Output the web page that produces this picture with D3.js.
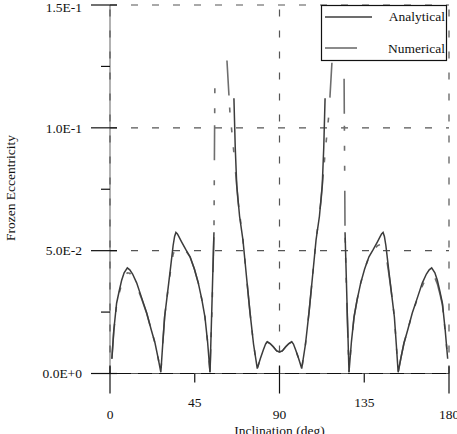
<!DOCTYPE html>
<html>
<head>
<meta charset="utf-8">
<script src="https://cdn.jsdelivr.net/npm/d3@7"></script>
<style>
  html, body { margin: 0; padding: 0; background: #fff; }
  svg { display: block; }
  text { font-family: "Liberation Serif", "Times New Roman", serif; font-size: 13.5px; fill: #111; }
</style>
</head>
<body>
<div id="container"></div>
<script>
const width = 457;
const height = 434;

// tick values and labels
const yMajor = [0, 0.05, 0.1, 0.15];
const yLabels = ["0.0E+0", "5.0E-2", "1.0E-1", "1.5E-1"];
const yMinor = [0.025, 0.075, 0.125];
const xMajor = [0, 90, 180];
const xMinor = [45, 135];

// analytical solution (null = break in the curve)
const analyticalInc = [
  1.0, 2.0, 3.5, 5.0, 6.2, 7.5, 9.2, 10.5, 12.0, 14.2, 16.5, 19.5, 22.0, 23.9, 25.5, 27.0,
  28.0, 29.0, 30.1, 31.2, 32.2, 33.5, 34.3, 35.0, 35.8, 36.5, 38.0, 40.2, 42.5, 44.8, 46.9, 48.8, 50.4, 51.8, 53.1, 54.2, 55.2,
  null,
  65.8, 66.5, 67.3, 68.8, 70.6, 72.4, 74.3, 76.2, 78.2, 79.8, 81.4, 82.6, 83.5, 85.0, 86.7, 88.5, 90.0,
  91.5, 93.3, 95.0, 96.5, 97.4, 98.6, 100.2, 101.8, 103.8, 105.7, 107.6, 109.4, 111.2, 112.7, 113.5, 114.2,
  null,
  124.8, 125.8, 126.9, 128.2, 129.6, 131.2, 133.1, 135.2, 137.5, 139.8, 142.0, 143.5, 144.2, 145.0, 145.7, 146.5, 147.8,
  148.8, 149.9, 151.0, 152.0, 153.0, 154.5, 156.1, 158.0, 160.5, 163.5, 165.8, 168.0, 169.5, 170.8, 172.5,
  173.8, 175.0, 176.5, 178.0, 179.3
];
const analyticalEcc = [
  0.0060, 0.0175, 0.0286, 0.0340, 0.0380, 0.0410, 0.0430, 0.0422, 0.0405, 0.0368, 0.0315, 0.0246, 0.0175, 0.0124, 0.0065, 0.0005,
  0.0120, 0.0230, 0.0300, 0.0370, 0.0434, 0.0520, 0.0558, 0.0574, 0.0568, 0.0558, 0.0536, 0.0505, 0.0475, 0.0425, 0.0368, 0.0300, 0.0231, 0.0130, 0.0005, 0.0300, 0.0575,
  null,
  0.1120, 0.0920, 0.0766, 0.0640, 0.0543, 0.0400, 0.0251, 0.0120, 0.0020, 0.0060, 0.0096, 0.0120, 0.0129, 0.0122, 0.0109, 0.0092, 0.0088,
  0.0092, 0.0109, 0.0122, 0.0129, 0.0120, 0.0096, 0.0060, 0.0020, 0.0120, 0.0251, 0.0400, 0.0543, 0.0640, 0.0766, 0.0920, 0.1120,
  null,
  0.0575, 0.0300, 0.0005, 0.0130, 0.0231, 0.0300, 0.0368, 0.0425, 0.0475, 0.0505, 0.0536, 0.0558, 0.0568, 0.0574, 0.0558, 0.0520, 0.0434,
  0.0370, 0.0300, 0.0230, 0.0120, 0.0005, 0.0065, 0.0124, 0.0175, 0.0246, 0.0315, 0.0368, 0.0405, 0.0422, 0.0430, 0.0410,
  0.0380, 0.0340, 0.0286, 0.0175, 0.0060
];

// numerical solution
const numericalInc = [
  1.0, 2.0, 3.5, 5.0, 6.2, 7.5, 9.2, 10.5, 12.0, 14.2, 16.5, 19.5, 22.0, 23.9, 25.5, 27.0,
  28.0, 29.0, 30.1, 31.2, 32.2, 33.5, 35.0, 36.5, 38.0, 40.2, 42.5, 44.8, 46.9, 48.8, 50.4, 51.8, 53.1, 54.3, 55.2, 55.7,
  null,
  62.1, 63.7, 64.8, 65.8, 66.9, 68.0, 70.6, 72.4, 74.3, 76.2, 78.2, 79.8, 81.4, 82.6, 83.5, 85.0, 86.7, 88.5, 90.0,
  91.5, 93.3, 95.0, 96.5, 97.4, 98.6, 100.2, 101.8, 103.8, 105.7, 107.6, 109.4, 112.0, 113.1, 114.2, 115.2, 116.3, 117.9,
  null,
  124.3, 124.8, 125.7, 126.9, 128.2, 129.6, 131.2, 133.1, 135.2, 137.5, 139.8, 142.0, 143.5, 145.0, 146.5, 147.8,
  148.8, 149.9, 151.0, 152.0, 153.0, 154.5, 156.1, 158.0, 160.5, 163.5, 165.8, 168.0, 169.5, 170.8, 172.5,
  173.8, 175.0, 176.5, 178.0, 179.3
];
const numericalEcc = [
  0.0060, 0.0170, 0.0280, 0.0330, 0.0365, 0.0390, 0.0410, 0.0408, 0.0392, 0.0355, 0.0310, 0.0244, 0.0175, 0.0124, 0.0065, 0.0005,
  0.0120, 0.0230, 0.0300, 0.0365, 0.0420, 0.0485, 0.0515, 0.0525, 0.0520, 0.0500, 0.0475, 0.0425, 0.0368, 0.0300, 0.0231, 0.0130, 0.0005, 0.0300, 0.0575, 0.1200,
  null,
  0.1274, 0.1060, 0.0977, 0.0896, 0.0800, 0.0700, 0.0543, 0.0400, 0.0251, 0.0120, 0.0020, 0.0060, 0.0096, 0.0120, 0.0129, 0.0122, 0.0109, 0.0092, 0.0088,
  0.0092, 0.0109, 0.0122, 0.0129, 0.0120, 0.0096, 0.0060, 0.0020, 0.0120, 0.0251, 0.0400, 0.0543, 0.0700, 0.0800, 0.0896, 0.0977, 0.1060, 0.1274,
  null,
  0.1200, 0.0575, 0.0300, 0.0005, 0.0130, 0.0231, 0.0300, 0.0368, 0.0425, 0.0475, 0.0500, 0.0520, 0.0525, 0.0515, 0.0485, 0.0420,
  0.0365, 0.0300, 0.0230, 0.0120, 0.0005, 0.0065, 0.0124, 0.0175, 0.0244, 0.0310, 0.0355, 0.0392, 0.0408, 0.0410, 0.0390,
  0.0365, 0.0330, 0.0280, 0.0170, 0.0060
];

const svg = d3.select("#container")
  .append("svg")
  .attr("width", width)
  .attr("height", height);

const x = d3.scaleLinear().domain([0, 180]).range([110, 449]);
const y = d3.scaleLinear().domain([0, 0.15]).range([373.5, 5]);

// axis lines (grid dashes are drawn over them)
svg.append("line")
  .attr("x1", x(0)).attr("x2", x(0))
  .attr("y1", y(0.15)).attr("y2", y(0))
  .attr("stroke", "#888").attr("stroke-width", 1.3);

svg.append("line")
  .attr("x1", x(0) - 19).attr("x2", x(180))
  .attr("y1", y(0)).attr("y2", y(0))
  .attr("stroke", "#111").attr("stroke-width", 1.2);

// dashed grid
const grid = svg.append("g")
  .attr("stroke", "#555")
  .attr("stroke-width", 1.2)
  .attr("stroke-dasharray", "7,14");

grid.selectAll("line.h")
  .data(yMajor)
  .join("line")
  .attr("class", "h")
  .attr("x1", x(0)).attr("x2", x(180))
  .attr("y1", d => y(d)).attr("y2", d => y(d));

grid.selectAll("line.v")
  .data(xMajor)
  .join("line")
  .attr("class", "v")
  .attr("x1", d => x(d)).attr("x2", d => x(d))
  .attr("y1", y(0)).attr("y2", y(0.15));

// ticks
const ticks = svg.append("g").attr("stroke", "#111").attr("stroke-width", 1.2);

ticks.selectAll("line.ymaj")
  .data(yMajor)
  .join("line")
  .attr("class", "ymaj")
  .attr("x1", x(0) - 19).attr("x2", x(0) + 7)
  .attr("y1", d => y(d)).attr("y2", d => y(d));

ticks.selectAll("line.ymin")
  .data(yMinor)
  .join("line")
  .attr("class", "ymin")
  .attr("x1", x(0) - 9).attr("x2", x(0))
  .attr("y1", d => y(d)).attr("y2", d => y(d));

ticks.selectAll("line.xmaj")
  .data(xMajor)
  .join("line")
  .attr("class", "xmaj")
  .attr("x1", d => x(d)).attr("x2", d => x(d))
  .attr("y1", y(0) - 8).attr("y2", y(0) + 20);

ticks.selectAll("line.xmin")
  .data(xMinor)
  .join("line")
  .attr("class", "xmin")
  .attr("x1", d => x(d)).attr("x2", d => x(d))
  .attr("y1", y(0)).attr("y2", y(0) + 9);

// tick labels
svg.selectAll("text.ylab")
  .data(yMajor)
  .join("text")
  .attr("class", "ylab")
  .attr("x", 82)
  .attr("y", d => Math.max(y(d), 7))
  .attr("dy", "0.35em")
  .attr("text-anchor", "end")
  .text((d, i) => yLabels[i]);

svg.selectAll("text.xmajlab")
  .data(xMajor)
  .join("text")
  .attr("class", "xmajlab")
  .attr("x", d => x(d))
  .attr("y", 419)
  .attr("text-anchor", "middle")
  .text(d => d);

svg.selectAll("text.xminlab")
  .data(xMinor)
  .join("text")
  .attr("class", "xminlab")
  .attr("x", d => x(d))
  .attr("y", 407)
  .attr("text-anchor", "middle")
  .text(d => d);

// axis titles
svg.append("text")
  .attr("x", x(90))
  .attr("y", 435)
  .attr("text-anchor", "middle")
  .text("Inclination (deg)");

svg.append("text")
  .attr("transform", "translate(15,188) rotate(-90)")
  .attr("text-anchor", "middle")
  .text("Frozen Eccentricity");

// curves
const toPoints = (inc, ecc) => inc.map((d, i) => ({ inc: d, ecc: ecc[i] }));

const line = d3.line()
  .defined(d => d.inc !== null && d.ecc !== null)
  .x(d => x(d.inc))
  .y(d => y(d.ecc));

svg.append("path")
  .datum(toPoints(numericalInc, numericalEcc))
  .attr("d", line)
  .attr("fill", "none")
  .attr("stroke", "#6e6e6e")
  .attr("stroke-width", 1.6)
  .attr("stroke-dasharray", "35,12,5,15,5,15,5,20");

svg.append("path")
  .datum(toPoints(analyticalInc, analyticalEcc))
  .attr("d", line)
  .attr("fill", "none")
  .attr("stroke", "#3c3c3c")
  .attr("stroke-width", 1.5);

// legend
const legend = svg.append("g");

legend.append("rect")
  .attr("x", 321.5).attr("y", 5.5)
  .attr("width", 125).attr("height", 55)
  .attr("fill", "#fff")
  .attr("stroke", "#111")
  .attr("stroke-width", 1.2);

legend.append("line")
  .attr("x1", 325).attr("x2", 372)
  .attr("y1", 17).attr("y2", 17)
  .attr("stroke", "#3c3c3c").attr("stroke-width", 1.5);

legend.append("line")
  .attr("x1", 325).attr("x2", 357)
  .attr("y1", 48).attr("y2", 48)
  .attr("stroke", "#6e6e6e").attr("stroke-width", 1.6);

legend.append("text")
  .attr("x", 445).attr("y", 21)
  .attr("text-anchor", "end")
  .text("Analytical");

legend.append("text")
  .attr("x", 445).attr("y", 52.5)
  .attr("text-anchor", "end")
  .text("Numerical");
</script>
</body>
</html>
